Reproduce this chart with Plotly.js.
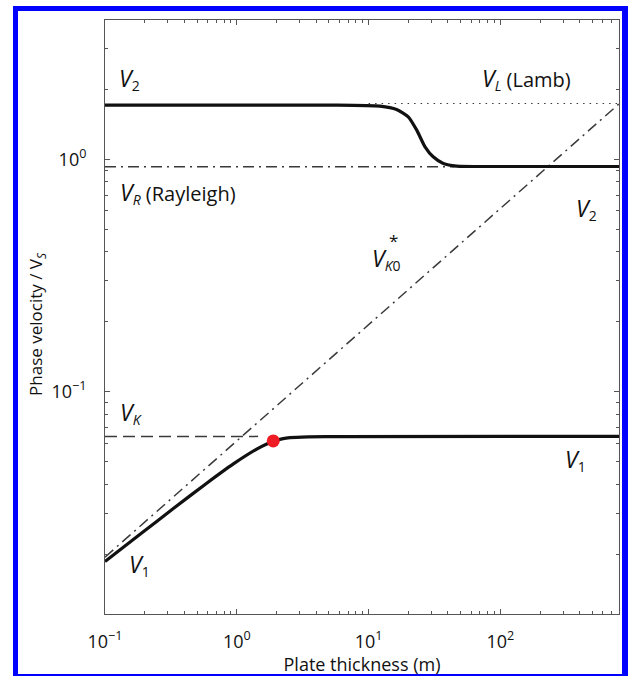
<!DOCTYPE html>
<html>
<head>
<meta charset="utf-8">
<script src="https://cdn.plot.ly/plotly-3.0.1.min.js"></script>
<style>
  html, body { margin: 0; padding: 0; background: #ffffff; }
  #wrap { position: relative; width: 633px; height: 676px; overflow: hidden; }
  #chart { position: absolute; left: 0; top: 0; width: 633px; height: 676px; }
  .bb { position: absolute; background: #0000ff; pointer-events: none; }
</style>
</head>
<body>
<div id="wrap">
  <div id="chart"></div>
  <div class="bb" style="left:13px; top:6px; width:5px; height:670px;"></div>
  <div class="bb" style="left:13px; top:6px; width:615px; height:5px;"></div>
  <div class="bb" style="left:622px; top:6px; width:6px; height:670px;"></div>
  <div class="bb" style="left:13px; top:674px; width:615px; height:2px;"></div>
</div>
<script>
// ---- data ----
const hV1 = [0.1, 0.1845, 0.33, 0.591, 0.942, 1.416, 1.89, 2.2, 2.53, 3.5, 6.07, 800];
const vV1 = [0.01857, 0.02432, 0.03141, 0.04036, 0.04887, 0.0566, 0.0612, 0.0626, 0.0634, 0.0639, 0.0641, 0.0642];

const hV2 = [0.1, 5.09, 12.2, 16.3, 20.0, 23.2, 26.8, 30.9, 36.9, 46.6, 93.5, 800];
const vV2 = [1.713, 1.713, 1.695, 1.64, 1.525, 1.336, 1.133, 1.026, 0.961, 0.936, 0.932, 0.932];

const hRay = [0.1, 45];
const vRay = [0.93, 0.93];

const hLamb = [10, 800];
const vLamb = [1.74, 1.74];

const hVK = [0.1, 1.45];
const vVK = [0.0642, 0.0642];

const hVK0 = [0.1, 800];
const vVK0 = [0.0194, 1.74];

const hDot = [1.89];
const vDot = [0.0614];

const xMajorVals = [0.1, 1, 10, 100];
const xMajorText = ['10<sup>−1</sup>', '10<sup>0</sup>', '10<sup>1</sup>', '10<sup>2</sup>'];
const xMinorVals = [0.2,0.3,0.4,0.5,0.6,0.7,0.8,0.9, 2,3,4,5,6,7,8,9, 20,30,40,50,60,70,80,90, 200,300,400,500,600,700];
const yMajorVals = [0.1, 1];
const yMajorText = ['10<sup>−1</sup>', '10<sup>0</sup>'];
const yMinorVals = [0.02,0.03,0.04,0.05,0.06,0.07,0.08,0.09, 0.2,0.3,0.4,0.5,0.6,0.7,0.8,0.9, 2,3];

const xTitle = 'Plate thickness (m)';
const yTitle = 'Phase velocity / V<sub><i>S</i></sub>';

// ---- layout geometry (pixels) ----
const W = 633, H = 676;
const L = 105, R = 618.7, T = 20, B = 614;
const px = x => (x - L) / (R - L);
const py = y => (B - y) / (B - T);

const FONT = '"Open Sans", "Noto Sans", sans-serif';
const lineDark = '#3a3a3a';

const traces = [
  { x: hRay, y: vRay, mode: 'lines', line: { color: lineDark, width: 1.5, dash: '11px,5px,2px,5px' }, hoverinfo: 'skip' },
  { x: hLamb, y: vLamb, mode: 'lines', line: { color: lineDark, width: 1.2, dash: '1.5px,5px' }, hoverinfo: 'skip' },
  { x: hVK, y: vVK, mode: 'lines', line: { color: lineDark, width: 1.5, dash: '12px,6px' }, hoverinfo: 'skip' },
  { x: hVK0, y: vVK0, mode: 'lines', line: { color: lineDark, width: 1.5, dash: '11px,5px,2px,5px' }, hoverinfo: 'skip' },
  { x: hV2, y: vV2, mode: 'lines', line: { color: '#111111', width: 3.2, shape: 'spline', smoothing: 0.6 }, hoverinfo: 'skip' },
  { x: hV1, y: vV1, mode: 'lines', line: { color: '#111111', width: 3.2, shape: 'spline', smoothing: 0.5 }, hoverinfo: 'skip' },
  { x: hDot, y: vDot, mode: 'markers', marker: { color: '#ee1c24', size: 13 }, hoverinfo: 'skip' }
];

function lab(x, y, text, size) {
  return { xref: 'paper', yref: 'paper', x: px(x), y: py(y), text: text,
           showarrow: false, xanchor: 'left', yanchor: 'middle',
           font: { family: FONT, size: size || 20, color: '#111' } };
}
const V = '<span style="font-size:23px"><i>V</i></span>';

const annotations = [
  lab(117, 78, V + '<sub>2</sub>'),
  lab(480, 78, V + '<sub><i>L</i></sub> (Lamb)'),
  lab(118, 192, V + '<sub><i>R</i></sub> (Rayleigh)'),
  lab(574, 208, V + '<sub>2</sub>'),
  lab(370, 258, V + '<sub><i>K</i>0</sub>'),
  lab(387, 240, '*', 17),
  lab(118, 412, V + '<sub><i>K</i></sub>'),
  lab(563, 459, V + '<sub>1</sub>'),
  lab(127, 564, V + '<sub>1</sub>'),
  { xref: 'paper', yref: 'paper', x: px(36), y: py(324), text: yTitle, textangle: -90,
    showarrow: false, xanchor: 'center', yanchor: 'middle',
    font: { family: FONT, size: 17, color: '#111' } }
];

const axisCommon = {
  type: 'log', showgrid: false, zeroline: false,
  showline: true, linecolor: '#555', linewidth: 1, mirror: 'ticks',
  ticks: 'inside', ticklen: 5, tickcolor: '#555', tickwidth: 1,
  tickfont: { family: FONT, size: 18, color: '#111' },
  tickmode: 'array'
};

const layout = {
  width: W, height: H,
  margin: { l: L, r: W - R, t: T, b: H - B, pad: 0 },
  paper_bgcolor: 'rgba(0,0,0,0)', plot_bgcolor: '#ffffff',
  showlegend: false,
  xaxis: Object.assign({}, axisCommon, {
    range: [-1, 2.9],
    tickvals: xMajorVals, ticktext: xMajorText,
    minor: { ticks: 'inside', ticklen: 3, tickcolor: '#555', tickvals: xMinorVals },
    ticklabelstandoff: 11,
    title: { text: xTitle, font: { family: FONT, size: 18, color: '#111' }, standoff: 4 }
  }),
  yaxis: Object.assign({}, axisCommon, {
    range: [-1.957, 0.6],
    tickvals: yMajorVals, ticktext: yMajorText,
    minor: { ticks: 'inside', ticklen: 3, tickcolor: '#555', tickvals: yMinorVals },
    ticklabelstandoff: 14
  }),
  annotations: annotations
};

Plotly.newPlot('chart', traces, layout, { displayModeBar: false, staticPlot: true });
</script>
</body>
</html>
